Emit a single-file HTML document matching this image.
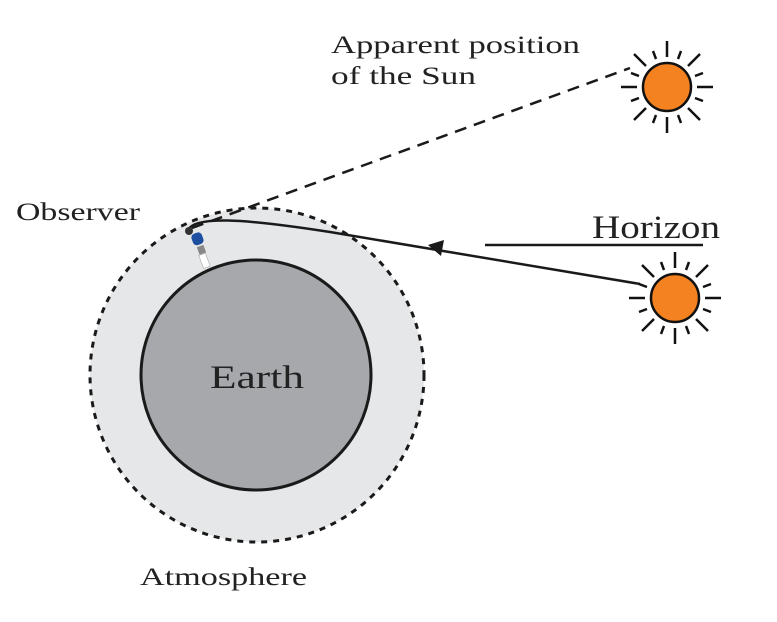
<!DOCTYPE html>
<html><head><style>body{margin:0;background:#fff}svg{display:block}</style></head><body>
<svg width="777" height="622" viewBox="0 0 777 622" xmlns="http://www.w3.org/2000/svg" font-family="Liberation Serif, serif" fill="#222">
<circle cx="257" cy="375" r="167" fill="#e6e7e8" stroke="#1a1a1a" stroke-width="3" stroke-dasharray="6,6"/>
<circle cx="256" cy="375" r="115" fill="#a7a8ab" stroke="#1a1a1a" stroke-width="3"/>
<text x="210" y="388" font-size="33" textLength="94" lengthAdjust="spacingAndGlyphs">Earth</text>
<text x="140" y="585" font-size="25" textLength="167" lengthAdjust="spacingAndGlyphs">Atmosphere</text>
<text x="16" y="220" font-size="25" textLength="124" lengthAdjust="spacingAndGlyphs">Observer</text>
<text x="331" y="53" font-size="25" textLength="249" lengthAdjust="spacingAndGlyphs">Apparent position</text>
<text x="331" y="84" font-size="25" textLength="145" lengthAdjust="spacingAndGlyphs">of the Sun</text>
<text x="592" y="238" font-size="33" textLength="128" lengthAdjust="spacingAndGlyphs">Horizon</text>
<line x1="485" y1="245" x2="703" y2="245" stroke="#1a1a1a" stroke-width="2.5"/>
<line x1="192" y1="228" x2="630" y2="68" stroke="#1a1a1a" stroke-width="2.5" stroke-dasharray="12,8"/>
<path d="M188 230 C195 216 240 218 330 232 L640 284" fill="none" stroke="#1a1a1a" stroke-width="2.5"/>
<polygon points="428,245 444,240 441,256" fill="#1a1a1a"/>
<circle cx="189" cy="231" r="4" fill="#333"/>
<rect x="192" y="233" width="11" height="12" rx="4" fill="#1f4fa0" transform="rotate(-20 197 239)"/>
<rect x="198" y="246" width="7" height="8" fill="#888" transform="rotate(-20 201 250)"/>
<rect x="201" y="254" width="7" height="14" fill="#fff" stroke="#999" stroke-width="0.5" transform="rotate(-20 204 261)"/>
<g id="sun1" transform="translate(667,87)" stroke="#111" stroke-width="2.5">
<g>
<line x1="0" y1="-30" x2="0" y2="-46"/><line x1="0" y1="30" x2="0" y2="46"/><line x1="-30" y1="0" x2="-46" y2="0"/><line x1="30" y1="0" x2="46" y2="0"/>
<line x1="21" y1="21" x2="33" y2="33"/><line x1="-21" y1="21" x2="-33" y2="33"/><line x1="21" y1="-21" x2="33" y2="-33"/><line x1="-21" y1="-21" x2="-33" y2="-33"/>
<line x1="11" y1="-28" x2="14" y2="-36"/><line x1="-11" y1="-28" x2="-14" y2="-36"/><line x1="11" y1="28" x2="14" y2="36"/><line x1="-11" y1="28" x2="-14" y2="36"/>
<line x1="28" y1="11" x2="36" y2="14"/><line x1="-28" y1="11" x2="-36" y2="14"/><line x1="28" y1="-11" x2="36" y2="-14"/><line x1="-28" y1="-11" x2="-36" y2="-14"/>
</g>
<circle r="24" fill="#f58220"/>
</g>
<use href="#sun1" transform="translate(8,211)"/>
</svg>
</body></html>
